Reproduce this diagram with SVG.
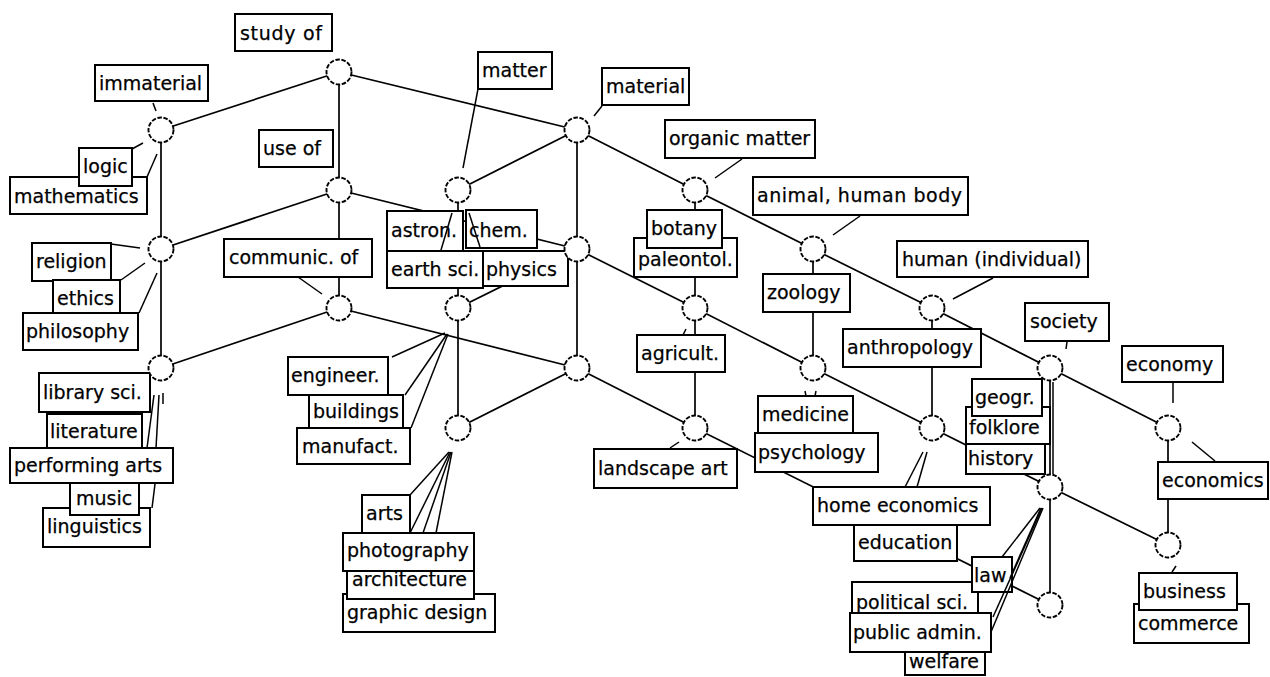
<svg xmlns="http://www.w3.org/2000/svg" width="1270" height="677" viewBox="0 0 1270 677">
  <style>
    .edge { stroke: #000; stroke-width: 1.7; fill: none; }
    .lead { stroke: #000; stroke-width: 1.5; fill: none; }
    .v { fill: #fff; stroke: #000; stroke-width: 1.9; stroke-dasharray: 4.5 1.6; }
    .lbl rect { fill: #fff; stroke: #000; stroke-width: 2; }
    .lbl text { font-family: "DejaVu Sans", Verdana, sans-serif; font-size: 19px; fill: #000; stroke: #000; stroke-width: 0.25; }
  </style>
  <rect width="1270" height="677" fill="#fff"/>

  <!-- lattice edges -->
  <g id="edges">
    <line class="edge" x1="339" y1="72" x2="161" y2="130"/>
    <line class="edge" x1="339" y1="72" x2="577" y2="130"/>
    <line class="edge" x1="339" y1="72" x2="339" y2="190"/>
    <line class="edge" x1="161" y1="130" x2="161" y2="249"/>
    <line class="edge" x1="577" y1="130" x2="458" y2="190"/>
    <line class="edge" x1="577" y1="130" x2="695" y2="190"/>
    <line class="edge" x1="577" y1="130" x2="577" y2="249"/>
    <line class="edge" x1="339" y1="190" x2="161" y2="249"/>
    <line class="edge" x1="339" y1="190" x2="577" y2="249"/>
    <line class="edge" x1="339" y1="190" x2="339" y2="308"/>
    <line class="edge" x1="458" y1="190" x2="458" y2="308"/>
    <line class="edge" x1="695" y1="190" x2="813" y2="249"/>
    <line class="edge" x1="695" y1="190" x2="695" y2="308"/>
    <line class="edge" x1="161" y1="249" x2="161" y2="368"/>
    <line class="edge" x1="577" y1="249" x2="458" y2="308"/>
    <line class="edge" x1="577" y1="249" x2="695" y2="308"/>
    <line class="edge" x1="577" y1="249" x2="577" y2="368"/>
    <line class="edge" x1="813" y1="249" x2="932" y2="308"/>
    <line class="edge" x1="813" y1="249" x2="813" y2="368"/>
    <line class="edge" x1="339" y1="308" x2="161" y2="368"/>
    <line class="edge" x1="339" y1="308" x2="577" y2="368"/>
    <line class="edge" x1="458" y1="308" x2="458" y2="428"/>
    <line class="edge" x1="695" y1="308" x2="813" y2="368"/>
    <line class="edge" x1="695" y1="308" x2="695" y2="428"/>
    <line class="edge" x1="932" y1="308" x2="1050" y2="368"/>
    <line class="edge" x1="932" y1="308" x2="932" y2="428"/>
    <line class="edge" x1="577" y1="368" x2="458" y2="428"/>
    <line class="edge" x1="577" y1="368" x2="695" y2="428"/>
    <line class="edge" x1="813" y1="368" x2="932" y2="428"/>
    <line class="edge" x1="1050" y1="368" x2="1168" y2="428"/>
    <line class="edge" x1="1050" y1="368" x2="1050" y2="487"/>
    <line class="edge" x1="695" y1="428" x2="1050" y2="605"/>
    <line class="edge" x1="932" y1="428" x2="1050" y2="487"/>
    <line class="edge" x1="1168" y1="428" x2="1168" y2="545"/>
    <line class="edge" x1="1050" y1="487" x2="1168" y2="545"/>
    <line class="edge" x1="1050" y1="487" x2="1050" y2="605"/>
  </g>

  <!-- label boxes -->
  <g id="lbl-study-of" class="lbl"><rect x="235" y="14" width="97" height="37"/><text x="240" y="40" textLength="82">study of</text></g>
  <g id="lbl-immaterial" class="lbl"><rect x="95" y="65" width="113" height="36"/><text x="99" y="90">immaterial</text></g>
  <g id="lbl-mathematics" class="lbl"><rect x="10" y="177" width="137" height="37"/><text x="14" y="203">mathematics</text></g>
  <g id="lbl-logic" class="lbl"><rect x="79" y="148" width="53" height="38"/><text x="83" y="173">logic</text></g>
  <g id="lbl-use-of" class="lbl"><rect x="259" y="130" width="74" height="37"/><text x="263" y="155">use of</text></g>
  <g id="lbl-matter" class="lbl"><rect x="478" y="52" width="74" height="37"/><text x="482" y="77">matter</text></g>
  <g id="lbl-material" class="lbl"><rect x="602" y="68" width="87" height="37"/><text x="606" y="93">material</text></g>
  <g id="lbl-organic-matter" class="lbl"><rect x="665" y="120" width="150" height="38"/><text x="669" y="145">organic matter</text></g>
  <g id="lbl-animal" class="lbl"><rect x="753" y="177" width="215" height="38"/><text x="757" y="202" textLength="205">animal, human body</text></g>
  <g id="lbl-paleontol" class="lbl"><rect x="634" y="238" width="103" height="39"/><text x="638" y="266">paleontol.</text></g>
  <g id="lbl-botany" class="lbl"><rect x="647" y="210" width="75" height="38"/><text x="651" y="235">botany</text></g>
  <g id="lbl-zoology" class="lbl"><rect x="763" y="274" width="87" height="38"/><text x="767" y="299">zoology</text></g>
  <g id="lbl-human" class="lbl"><rect x="897" y="241" width="191" height="36"/><text x="902" y="266">human (individual)</text></g>
  <g id="lbl-anthropology" class="lbl"><rect x="843" y="329" width="138" height="38"/><text x="847" y="354">anthropology</text></g>
  <g id="lbl-society" class="lbl"><rect x="1025" y="303" width="84" height="38"/><text x="1030" y="328">society</text></g>
  <g id="lbl-economy" class="lbl"><rect x="1122" y="346" width="101" height="36"/><text x="1126" y="371">economy</text></g>

  <g id="lbl-religion" class="lbl"><rect x="32" y="243" width="79" height="38"/><text x="36" y="268">religion</text></g>
  <g id="lbl-ethics" class="lbl"><rect x="53" y="280" width="67" height="37"/><text x="57" y="305">ethics</text></g>
  <g id="lbl-philosophy" class="lbl"><rect x="23" y="313" width="115" height="37"/><text x="26" y="338">philosophy</text></g>
  <g id="lbl-communic-of" class="lbl"><rect x="224" y="239" width="148" height="38"/><text x="229" y="264">communic. of</text></g>

  <g id="lbl-library-sci" class="lbl"><rect x="39" y="373" width="111" height="39"/><text x="43" y="399">library sci.</text></g>
  <g id="lbl-literature" class="lbl"><rect x="47" y="414" width="95" height="35"/><text x="50" y="438">literature</text></g>
  <g id="lbl-performing-arts" class="lbl"><rect x="10" y="448" width="163" height="35"/><text x="14" y="472">performing arts</text></g>
  <g id="lbl-linguistics" class="lbl"><rect x="43" y="508" width="107" height="39"/><text x="47" y="533">linguistics</text></g>
  <g id="lbl-music" class="lbl"><rect x="70" y="483" width="69" height="32"/><text x="76" y="505">music</text></g>

  <g id="lbl-astron" class="lbl"><rect x="387" y="211" width="76" height="40"/><text x="391" y="237">astron.</text></g>
  <g id="lbl-chem" class="lbl"><rect x="466" y="210" width="71" height="38"/><text x="469" y="237">chem.</text></g>
  <g id="lbl-earth-sci" class="lbl"><rect x="387" y="251" width="96" height="37"/><text x="391" y="276">earth sci.</text></g>
  <g id="lbl-physics" class="lbl"><rect x="483" y="251" width="85" height="35"/><text x="486" y="276">physics</text></g>

  <g id="lbl-engineer" class="lbl"><rect x="288" y="357" width="100" height="38"/><text x="291" y="382">engineer.</text></g>
  <g id="lbl-buildings" class="lbl"><rect x="309" y="395" width="94" height="33"/><text x="313" y="418">buildings</text></g>
  <g id="lbl-manufact" class="lbl"><rect x="297" y="428" width="113" height="36"/><text x="302" y="453">manufact.</text></g>

  <g id="lbl-graphic-design" class="lbl"><rect x="343" y="594" width="152" height="38"/><text x="347" y="619">graphic design</text></g>
  <g id="lbl-architecture" class="lbl"><rect x="347" y="560" width="127" height="39"/><text x="352" y="586">architecture</text></g>
  <g id="lbl-photography" class="lbl"><rect x="343" y="533" width="131" height="38"/><text x="347" y="557">photography</text></g>
  <g id="lbl-arts" class="lbl"><rect x="362" y="495" width="48" height="38"/><text x="366" y="520">arts</text></g>

  <g id="lbl-agricult" class="lbl"><rect x="637" y="335" width="88" height="37"/><text x="641" y="360">agricult.</text></g>
  <g id="lbl-landscape-art" class="lbl"><rect x="594" y="449" width="143" height="39"/><text x="598" y="475">landscape art</text></g>
  <g id="lbl-medicine" class="lbl"><rect x="758" y="396" width="95" height="37"/><text x="762" y="421">medicine</text></g>
  <g id="lbl-psychology" class="lbl"><rect x="755" y="433" width="123" height="39"/><text x="758" y="459">psychology</text></g>

  <g id="lbl-history" class="lbl"><rect x="966" y="444" width="79" height="30"/><text x="968" y="465">history</text></g>
  <g id="lbl-folklore" class="lbl"><rect x="966" y="407" width="84" height="37"/><text x="969" y="434">folklore</text></g>
  <g id="lbl-geogr" class="lbl"><rect x="972" y="379" width="70" height="37"/><text x="975" y="404">geogr.</text></g>
  <g id="lbl-economics" class="lbl"><rect x="1158" y="462" width="110" height="37"/><text x="1162" y="487">economics</text></g>

  <g id="lbl-home-economics" class="lbl"><rect x="813" y="487" width="177" height="38"/><text x="817" y="512">home economics</text></g>
  <g id="lbl-education" class="lbl"><rect x="854" y="525" width="103" height="36"/><text x="858" y="549">education</text></g>
  <g id="lbl-welfare" class="lbl"><rect x="905" y="645" width="80" height="30"/><text x="909" y="668">welfare</text></g>
  <g id="lbl-political-sci" class="lbl"><rect x="852" y="582" width="126" height="38"/><text x="856" y="609">political sci.</text></g>
  <g id="lbl-public-admin" class="lbl"><rect x="850" y="613" width="141" height="39"/><text x="853" y="639">public admin.</text></g>
  <g id="lbl-law" class="lbl"><rect x="972" y="557" width="40" height="35"/><text x="974" y="582">law</text></g>
  <g id="lbl-commerce" class="lbl"><rect x="1134" y="604" width="115" height="39"/><text x="1138" y="630">commerce</text></g>
  <g id="lbl-business" class="lbl"><rect x="1139" y="573" width="98" height="37"/><text x="1143" y="598">business</text></g>

  <!-- leader lines from labels toward their vertices -->
  <g id="leaders">
    <line class="lead" x1="153" y1="103" x2="156" y2="111"/>
    <line class="lead" x1="132" y1="149" x2="143" y2="143"/>
    <line class="lead" x1="147" y1="177" x2="157" y2="154"/>
    <line class="lead" x1="478" y1="89" x2="463" y2="168"/>
    <line class="lead" x1="602" y1="106" x2="594" y2="116"/>
    <line class="lead" x1="742" y1="159" x2="715" y2="178"/>
    <line class="lead" x1="860" y1="216" x2="833" y2="235"/>
    <line class="lead" x1="993" y1="278" x2="953" y2="299"/>
    <line class="lead" x1="1067" y1="342" x2="1066" y2="349"/>
    <line class="lead" x1="1173" y1="382" x2="1173" y2="403"/>
    <line class="lead" x1="1215" y1="461" x2="1192" y2="442"/>
    <line class="lead" x1="111" y1="244" x2="140" y2="248"/>
    <line class="lead" x1="121" y1="280" x2="145" y2="263"/>
    <line class="lead" x1="139" y1="313" x2="157" y2="273"/>
    <line class="lead" x1="298" y1="277" x2="322" y2="294"/>
    <line class="lead" x1="154" y1="395" x2="147" y2="448"/>
    <line class="lead" x1="159" y1="395" x2="156" y2="448"/>
    <line class="lead" x1="163" y1="393" x2="163" y2="404"/>
    <line class="lead" x1="155" y1="484" x2="152" y2="508"/>
    <line class="lead" x1="441" y1="250" x2="452" y2="213"/>
    <line class="lead" x1="480" y1="247" x2="469" y2="213"/>
    <line class="lead" x1="392" y1="357" x2="445" y2="333"/>
    <line class="lead" x1="405" y1="395" x2="447" y2="334"/>
    <line class="lead" x1="411" y1="428" x2="448" y2="334"/>
    <line class="lead" x1="410" y1="495" x2="449" y2="452"/>
    <line class="lead" x1="410" y1="533" x2="450" y2="452"/>
    <line class="lead" x1="423" y1="533" x2="451" y2="452"/>
    <line class="lead" x1="436" y1="533" x2="452" y2="452"/>
    <line class="lead" x1="683" y1="335" x2="686" y2="329"/>
    <line class="lead" x1="670" y1="448" x2="679" y2="442"/>
    <line class="lead" x1="806" y1="396" x2="805" y2="391"/>
    <line class="lead" x1="815" y1="396" x2="816" y2="391"/>
    <line class="lead" x1="905" y1="487" x2="923" y2="452"/>
    <line class="lead" x1="917" y1="487" x2="927" y2="452"/>
    <line class="lead" x1="1053" y1="382" x2="1053" y2="474"/>
    <line class="lead" x1="1002" y1="557" x2="1040" y2="508"/>
    <line class="lead" x1="1010" y1="578" x2="1041" y2="508"/>
    <line class="lead" x1="993" y1="617" x2="1042" y2="508"/>
    <line class="lead" x1="991" y1="632" x2="1043" y2="508"/>
    <line class="lead" x1="1172" y1="572" x2="1176" y2="566"/>
  </g>

  <!-- lattice vertices -->
  <g id="v-study-of"><circle class="v" cx="339" cy="72" r="12.5"/></g>
  <g id="v-immaterial"><circle class="v" cx="161" cy="130" r="12.5"/></g>
  <g id="v-material"><circle class="v" cx="577" cy="130" r="12.5"/></g>
  <g id="v-use-of"><circle class="v" cx="339" cy="190" r="12.5"/></g>
  <g id="v-matter"><circle class="v" cx="458" cy="190" r="12.5"/></g>
  <g id="v-organic-matter"><circle class="v" cx="695" cy="190" r="12.5"/></g>
  <g id="v-religion"><circle class="v" cx="161" cy="249" r="12.5"/></g>
  <g id="v-material-use"><circle class="v" cx="577" cy="249" r="12.5"/></g>
  <g id="v-animal"><circle class="v" cx="813" cy="249" r="12.5"/></g>
  <g id="v-communic-of"><circle class="v" cx="339" cy="308" r="12.5"/></g>
  <g id="v-engineer"><circle class="v" cx="458" cy="308" r="12.5"/></g>
  <g id="v-agricult"><circle class="v" cx="695" cy="308" r="12.5"/></g>
  <g id="v-human"><circle class="v" cx="932" cy="308" r="12.5"/></g>
  <g id="v-library"><circle class="v" cx="161" cy="368" r="12.5"/></g>
  <g id="v-comm-material"><circle class="v" cx="577" cy="368" r="12.5"/></g>
  <g id="v-medicine"><circle class="v" cx="813" cy="368" r="12.5"/></g>
  <g id="v-society"><circle class="v" cx="1050" cy="368" r="12.5"/></g>
  <g id="v-arts"><circle class="v" cx="458" cy="428" r="12.5"/></g>
  <g id="v-landscape"><circle class="v" cx="695" cy="428" r="12.5"/></g>
  <g id="v-home-economics"><circle class="v" cx="932" cy="428" r="12.5"/></g>
  <g id="v-economy"><circle class="v" cx="1168" cy="428" r="12.5"/></g>
  <g id="v-law"><circle class="v" cx="1050" cy="487" r="12.5"/></g>
  <g id="v-business"><circle class="v" cx="1168" cy="545" r="12.5"/></g>
  <g id="v-bottom"><circle class="v" cx="1050" cy="605" r="12.5"/></g>
</svg>
